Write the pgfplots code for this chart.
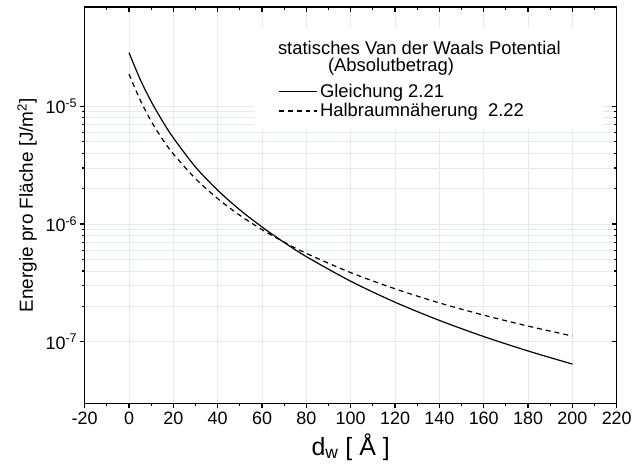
\documentclass[border=0pt]{standalone}
\usepackage{fontspec}
\setmainfont{Liberation Sans}
\usepackage{pgfplots}
\pgfplotsset{compat=1.18}
\definecolor{gridc}{RGB}{228,235,235}

\pgfplotsset{vdwframe/.style={
    scale only axis,
    width=534pt, height=398pt,
    at={(0,0)}, anchor=south west,
    xmin=-20, xmax=220,
    ymin=3e-8, ymax=7e-5,
    xtick={-20,0,...,220},
    minor x tick num=1,
    ytick={1e-7,1e-6,1e-5},
    axis line style={line width=1.5pt},
    tick style={black, line width=1.2pt},
    major tick length=5pt, minor tick length=3pt,
}}

\begin{document}
\begin{tikzpicture}
\begin{axis}[
    ymode=log,
    vdwframe,
    yticklabels={10\textsuperscript{-7},10\textsuperscript{-6},10\textsuperscript{-5}},
    xtick pos=left, ytick pos=left,
    xmajorgrids, ymajorgrids, yminorgrids,
    grid style={gridc, line width=0.8pt},
    minor grid style={gridc, line width=0.8pt},
    tick align=outside,
    tick label style={font=\fontsize{18}{20}\selectfont},
    yticklabel style={xshift=1pt},
    /pgf/number format/assume math mode=true,
    xlabel={\fontsize{25}{28}\selectfont d\textsubscript{w} [ Å ]},
    xlabel style={yshift=-2pt},
    ylabel={\fontsize{19}{21}\selectfont Energie pro Fläche [J/m\textsuperscript{2}]},
    ylabel style={yshift=2pt},
    legend image code/.code={\draw[#1] (0pt,0pt) -- (39pt,0pt);},
    legend style={draw=none, fill=none, inner sep=0pt,
        font=\fontsize{18.5}{21}\selectfont,
        at={(axis description cs:0.363,0.81)}, anchor=north west,
        nodes={inner sep=2pt},
        cells={anchor=west, text height=13pt, text depth=4pt}, row sep=1pt},
    clip=false,
]
\fill[white] (axis description cs:0.318,0.692) rectangle (axis description cs:0.975,0.946);
\node[anchor=west, inner sep=0pt, font=\fontsize{18.5}{21}\selectfont] at (axis description cs:0.363,0.896) {statisches Van der Waals Potential};
\node[anchor=west, inner sep=0pt, font=\fontsize{18.5}{21}\selectfont] at (axis description cs:0.457,0.848) {(Absolutbetrag)};

\addplot[black, line width=1.2pt, smooth] coordinates {
(0,2.86e-5)(5,1.70e-5)(10,1.10e-5)(15,7.55e-6)(20,5.40e-6)(30,3.05e-6)
(40,1.94e-6)(50,1.32e-6)(60,9.45e-7)(70,6.98e-7)(80,5.29e-7)(100,3.27e-7)
(120,2.17e-7)(140,1.52e-7)(160,1.109e-7)(180,8.36e-8)(200,6.47e-8)};
\addlegendentry{Gleichung 2.21}
\addplot[black, line width=1.2pt, dash pattern=on 5pt off 4pt, smooth] coordinates {
(0,1.88e-5)(5,1.136e-5)(10,7.48e-6)(15,5.29e-6)(20,3.94e-6)(30,2.43e-6)
(40,1.645e-6)(50,1.187e-6)(60,8.97e-7)(70,7.02e-7)(80,5.64e-7)(100,3.87e-7)
(120,2.82e-7)(140,2.14e-7)(160,1.685e-7)(180,1.36e-7)(200,1.12e-7)};
\addlegendentry{Halbraumnäherung\ \ 2.22}
\end{axis}
% mirrored ticks on top and right, pointing inwards
\begin{axis}[
    ymode=log,
    vdwframe,
    xtick pos=right, ytick pos=right,
    tick align=inside,
    xticklabels={}, yticklabels={},
]
\end{axis}
\useasboundingbox (-85pt,-71.5pt) rectangle (550pt,403.5pt);
\end{tikzpicture}
\end{document}
